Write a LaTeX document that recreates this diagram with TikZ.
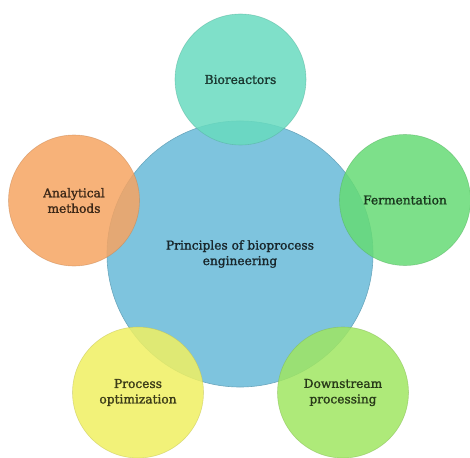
\documentclass[tikz,border=0pt]{standalone}
\usepackage{fontspec}
\setmainfont{DejaVu Serif}[BoldFont=DejaVu Serif, BoldFeatures={FakeBold=1.4}]
\definecolor{hubblue}{HTML}{7EC4DE}
\definecolor{bioteal}{HTML}{68DBBF}
\definecolor{fermgreen}{HTML}{66DB75}
\definecolor{downgreen}{HTML}{A0E662}
\definecolor{procyellow}{HTML}{F0F062}
\definecolor{anaorange}{HTML}{F6A462}
\tikzset{
  hub/.style={circle, minimum size=266pt, inner sep=0pt, fill=hubblue, draw=hubblue!85!black, line width=0.6pt,
    text=hubblue!20!black, align=center, font=\fontsize{12.2}{15.5}\selectfont\bfseries},
  petal/.style={circle, minimum size=131pt, inner sep=0pt, fill=#1, fill opacity=0.85, text opacity=1,
    draw=#1!80!black, draw opacity=0.5, line width=0.6pt, text=#1!25!black, align=center,
    font=\fontsize{12.2}{15.5}\selectfont\bfseries}
}
\begin{document}
\begin{tikzpicture}[x=1pt,y=-1pt]
        \useasboundingbox (0,0) rectangle (470,457);
        \node[hub] (hub) at (240,254) {Principles of bioprocess\\engineering};
        \node[petal=bioteal] (bio) at (240.5,79.5) {Bioreactors};
        \node[petal=fermgreen] (ferm) at (405,200) {Fermentation};
        \node[petal=downgreen] (down) at (343,392.5) {Downstream\\processing};
        \node[petal=procyellow] (proc) at (138,392.5) {Process\\optimization};
        \node[petal=anaorange] (ana) at (74,200.5) {Analytical\\methods};
    \end{tikzpicture}
\end{document}
